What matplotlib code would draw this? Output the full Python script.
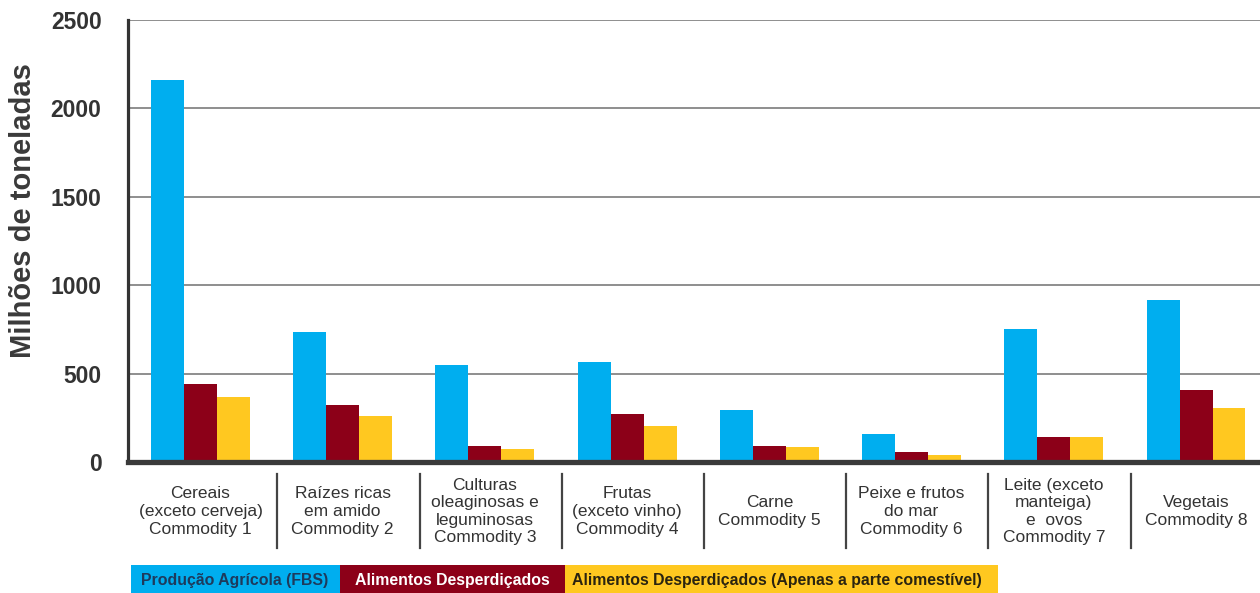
import numpy as np
import matplotlib
matplotlib.use("Agg")
import matplotlib.pyplot as plt
from matplotlib.patches import Rectangle

# data (milhões de toneladas)
categories = [
    "Cereais\n(exceto cerveja)\nCommodity 1",
    "Raízes ricas\nem amido\nCommodity 2",
    "Culturas\noleaginosas e\nleguminosas\nCommodity 3",
    "Frutas\n(exceto vinho)\nCommodity 4",
    "Carne\nCommodity 5",
    "Peixe e frutos\ndo mar\nCommodity 6",
    "Leite (exceto\nmanteiga)\ne  ovos\nCommodity 7",
    "Vegetais\nCommodity 8",
]
producao = [2160, 735, 549, 567, 296, 158, 752, 915]
desperdicio = [440, 321, 92, 273, 92, 58, 140, 405]
desperdicio_comestivel = [366, 262, 74, 205, 83, 40, 140, 304]

series_names = [
    "Produção Agrícola (FBS)",
    "Alimentos Desperdiçados",
    "Alimentos Desperdiçados (Apenas a parte comestível)",
]
colors = ["#00AEEF", "#8C0018", "#FFC820"]
text_colors = ["#1E3A5C", "#FFFFFF", "#2A2410"]
yticks = [0, 500, 1000, 1500, 2000, 2500]

plt.rcParams["font.family"] = ["Liberation Sans", "DejaVu Sans"]

fig = plt.figure(figsize=(12.6, 5.93), dpi=100)
ax = fig.add_axes([128 / 1260, 1 - 462 / 593, 1 - 128 / 1260, 442 / 593])

x = np.arange(len(categories))
w = 0.232
for k, vals in enumerate([producao, desperdicio, desperdicio_comestivel]):
    ax.bar(x + (k - 1) * w, vals, width=w, color=colors[k], zorder=3,
           linewidth=0)

ax.set_ylim(0, 2500)
ax.set_xlim(-0.51, 7.45)
ax.set_yticks(yticks)
ax.set_yticklabels([str(t) for t in yticks], fontsize=16.5,
                   fontweight="bold", color="#333333")
ax.tick_params(axis="y", length=0, pad=19)
ax.set_xticks([])
ax.grid(axis="y", color="#707070", linewidth=1.1, zorder=0)

for s in ["top", "right"]:
    ax.spines[s].set_visible(False)
ax.spines["left"].set_linewidth(2.3)
ax.spines["left"].set_color("#333333")
ax.spines["bottom"].set_linewidth(3.8)
ax.spines["bottom"].set_color("#3a3a3a")
ax.spines["bottom"].set_zorder(4)

# category labels and separators under the axis
tr = ax.get_xaxis_transform()
for i, lab in enumerate(categories):
    ax.text(i, -0.112, lab, transform=tr, ha="center", va="center",
            fontsize=12.5, color="#333333", linespacing=1.22)
for i in range(len(categories) - 1):
    xs = i + 0.54
    ax.plot([xs, xs], [-0.027, -0.195], transform=tr, color="#444444",
            linewidth=1.6, clip_on=False)

fig.text(23 / 1260, 1 - 211 / 593, "Milhões de toneladas", rotation=90,
         ha="center", va="center", fontsize=21, fontweight="bold",
         color="#3a3a3a")

# legend strip at the bottom
box_edges = [131, 340, 565, 998]
for k in range(3):
    x0 = box_edges[k] / 1260
    bw = (box_edges[k + 1] - box_edges[k]) / 1260
    fig.add_artist(Rectangle((x0, 0), bw, 28 / 593, transform=fig.transFigure,
                             facecolor=colors[k], edgecolor="none"))
    pad = [10, 15, 7][k]
    fig.text((box_edges[k] + pad) / 1260, 12 / 593, series_names[k],
             ha="left", va="center", fontsize=11.4, fontweight="bold",
             color=text_colors[k])

fig.savefig("out.png", dpi=100)
